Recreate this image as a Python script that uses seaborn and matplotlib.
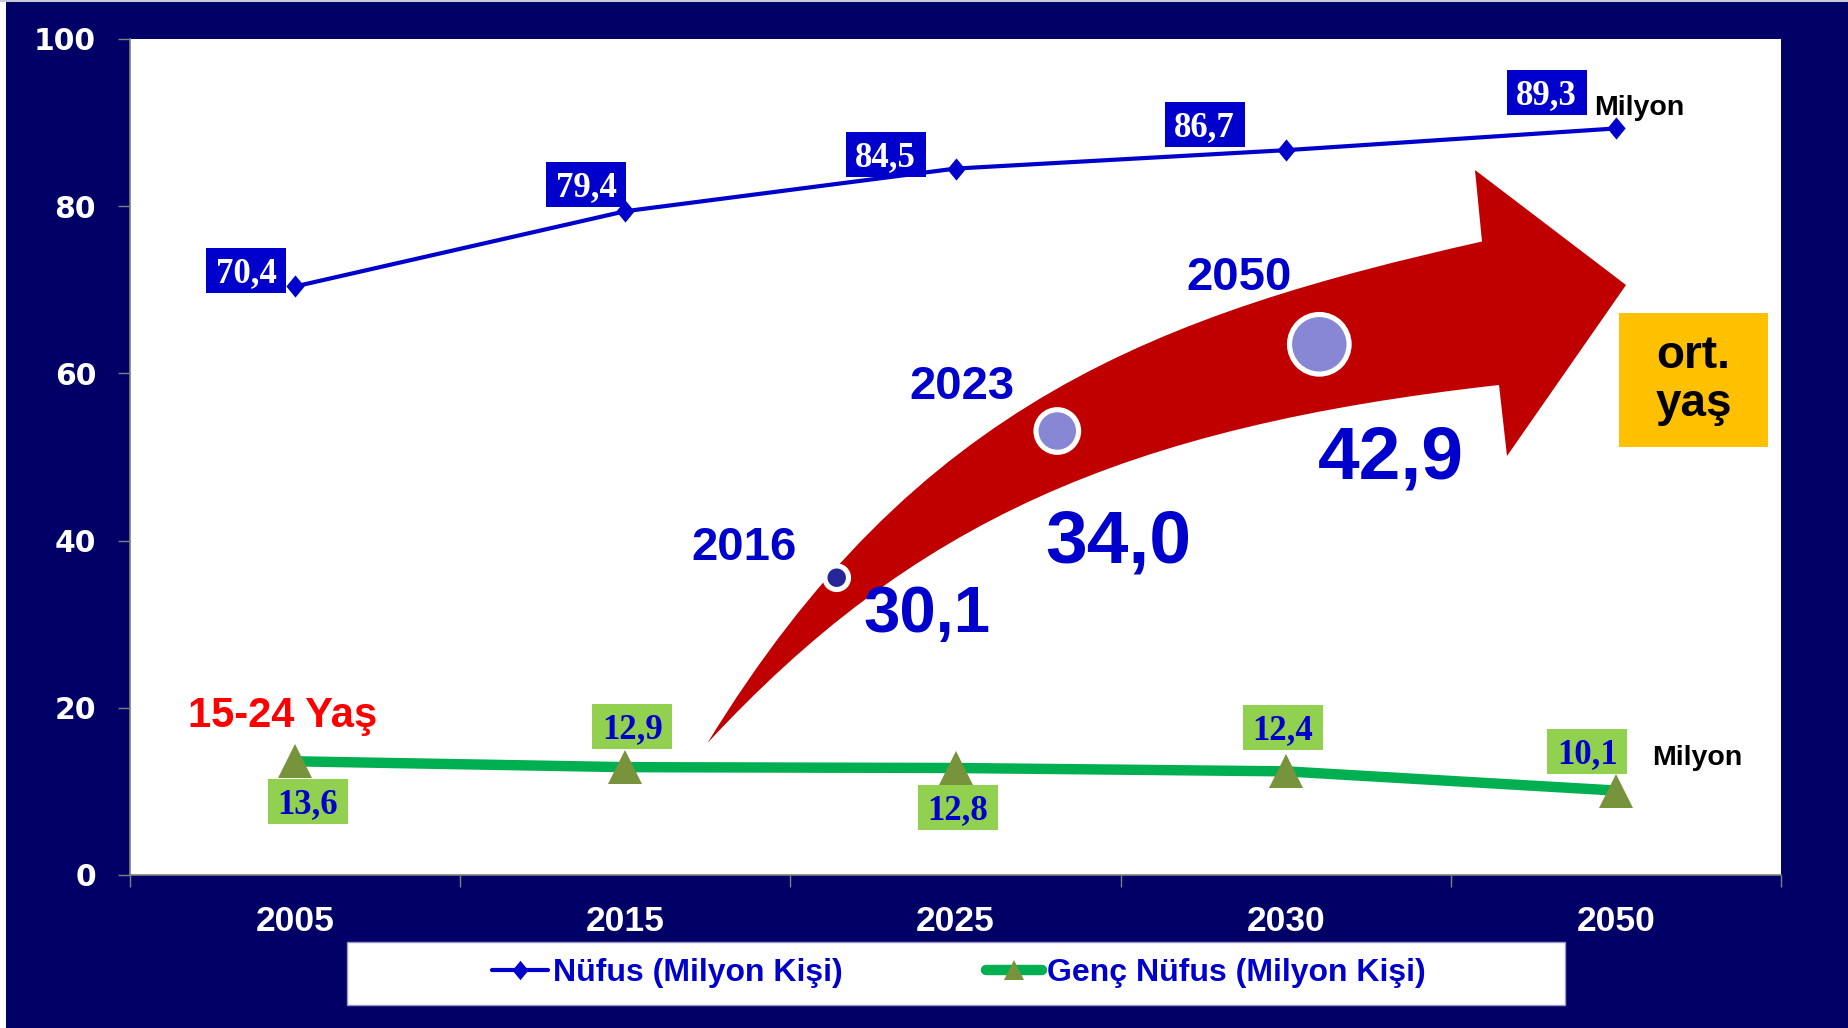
import numpy as np
import pandas as pd
import matplotlib
matplotlib.use("Agg")
import matplotlib.pyplot as plt
import matplotlib.transforms as mtransforms
from matplotlib.patches import Rectangle, PathPatch, Circle
from matplotlib.path import Path
from matplotlib.lines import Line2D
import seaborn as sns

# ---------------- data ----------------
years = ["2005", "2015", "2025", "2030", "2050"]
nufus = [70.4, 79.4, 84.5, 86.7, 89.3]
genc = [13.6, 12.9, 12.8, 12.4, 10.1]
nufus_labels = ["70,4", "79,4", "84,5", "86,7", "89,3"]
genc_labels = ["13,6", "12,9", "12,8", "12,4", "10,1"]
y_ticks = [0, 20, 40, 60, 80, 100]
series_names = ["Nüfus (Milyon Kişi)", "Genç Nüfus (Milyon Kişi)"]
unit_text = "Milyon"
age_group_text = "15-24 Yaş"
median_years = ["2016", "2023", "2050"]
median_ages = ["30,1", "34,0", "42,9"]
median_caption = "ort.\nyaş"

# ---------------- layout (canvas pixels, y downward) ----------------
W, H = 1849, 1028
AX_L, AX_R, AX_T, AX_B = 130, 1781, 39, 875
nufus_off = [(-48.7, -15.5), (-39, -27.2), (-70, -13.6), (-81, -25.2), (-69.3, -35.5)]
genc_off = [(12.8, 40.4), (7, -40.4), (2, 39.5), (-3, -43.8), (-28.8, -39.4)]
BOX_W, BOX_H = 80, 45
year_pos = [(744, 560), (962, 399), (1239, 290)]          # centre x, baseline y
age_pos = [(927, 632), (1118, 562), (1391, 478)]
age_size = [47, 54, 54]
bubble_pos = [(836.7, 577.7), (1057.3, 431), (1319.3, 344.3)]
bubble_r = [11.8, 21.3, 29.8]
bubble_fc = ["#262699", "#8787D6", "#8787D6"]

NAVY = "#000066"
BLUE = "#0000CC"
GREEN = "#00B050"
OLIVE = "#77933C"
LGREEN = "#92D050"
RED = "#C00000"
GREY = "#808080"

sns.set_theme(style="white")
plt.rcParams["font.family"] = ["Liberation Sans", "DejaVu Sans"]

fig = plt.figure(figsize=(W / 100, H / 100), dpi=100, facecolor=NAVY)
ax = fig.add_axes([AX_L / W, 1 - AX_B / H, (AX_R - AX_L) / W, (AX_B - AX_T) / H])
ax.set_facecolor("white")

pxT = mtransforms.Affine2D().scale(1, -1).translate(0, H)

# left white strip / top line of the slide frame
fig.add_artist(Rectangle((0, 0), 6, H, transform=pxT, facecolor="white", edgecolor="none", zorder=0))
fig.add_artist(Rectangle((0, 0), W, 1.5, transform=pxT, facecolor="#c8c8d8", edgecolor="none", zorder=0))

df = pd.DataFrame({
    "Yıl": years + years,
    "Değer": nufus + genc,
    "Seri": [series_names[0]] * len(years) + [series_names[1]] * len(years),
})

diamond = Path([(0, 1), (0.82, 0), (0, -1), (-0.82, 0), (0, 1)],
               [Path.MOVETO, Path.LINETO, Path.LINETO, Path.LINETO, Path.CLOSEPOLY])

sns.lineplot(data=df[df["Seri"] == series_names[0]], x="Yıl", y="Değer", ax=ax,
             color=BLUE, linewidth=3, marker=diamond, markersize=16,
             markerfacecolor=BLUE, markeredgewidth=0, legend=False, sort=False, zorder=3)
sns.lineplot(data=df[df["Seri"] == series_names[1]], x="Yıl", y="Değer", ax=ax,
             color=GREEN, linewidth=7.5, marker="^", markersize=24,
             markerfacecolor=OLIVE, markeredgewidth=0, legend=False, sort=False, zorder=3)

ax.set_xlim(-0.5, len(years) - 0.5)
ax.set_ylim(0, 100)
ax.set_xlabel("")
ax.set_ylabel("")
ax.set_yticks(y_ticks)
ax.set_yticklabels([str(t) for t in y_ticks])
ax.set_xticks(range(len(years)))
ax.set_xticklabels(years)
ax.set_xticks(np.arange(-0.5, len(years), 1.0), minor=True)
ax.tick_params(axis="x", which="major", length=0, pad=21.6, labelcolor="white")
ax.tick_params(axis="x", which="minor", length=8.4, width=1, color=GREY, direction="out", bottom=True)
ax.tick_params(axis="y", which="major", length=8.4, width=1, color=GREY, direction="out",
               pad=16, labelcolor="white", left=True)
for t in ax.get_xticklabels():
    t.set_fontfamily("Liberation Sans")
    t.set_fontweight("bold")
    t.set_fontsize(25.5)
for t in ax.get_yticklabels():
    t.set_fontfamily("DejaVu Sans")
    t.set_fontweight("bold")
    t.set_fontsize(21.5)
for s in ["top", "right"]:
    ax.spines[s].set_visible(False)
for s in ["left", "bottom"]:
    ax.spines[s].set_color(GREY)
    ax.spines[s].set_linewidth(1.2)
ax.grid(False)


def anchor(i, v):
    return mtransforms.ScaledTranslation(i, v, ax.transData)


for i, (v, lab, (dx, dy)) in enumerate(zip(nufus, nufus_labels, nufus_off)):
    tr = anchor(i, v)
    ax.add_artist(Rectangle((dx - BOX_W / 2, -dy - BOX_H / 2), BOX_W, BOX_H, transform=tr,
                            facecolor=BLUE, edgecolor="none", zorder=5, clip_on=False))
    ax.text(dx, -dy - 11.6, lab, transform=tr, ha="center", va="baseline", color="white",
            fontsize=25, fontweight="bold", family="Liberation Serif", zorder=6, clip_on=False)

for i, (v, lab, (dx, dy)) in enumerate(zip(genc, genc_labels, genc_off)):
    tr = anchor(i, v)
    ax.add_artist(Rectangle((dx - BOX_W / 2, -dy - BOX_H / 2), BOX_W, BOX_H, transform=tr,
                            facecolor=LGREEN, edgecolor="none", zorder=5, clip_on=False))
    ax.text(dx, -dy - 11.6, lab, transform=tr, ha="center", va="baseline", color=BLUE,
            fontsize=25, fontweight="bold", family="Liberation Serif", zorder=6, clip_on=False)

last = len(years) - 1
ax.text(-22, 13.5, unit_text, transform=anchor(last, nufus[last]), ha="left", va="baseline",
        color="black", fontsize=20.5, fontweight="bold", zorder=6, clip_on=False)
ax.text(36.7, 25.6, unit_text, transform=anchor(last, genc[last]), ha="left", va="baseline",
        color="black", fontsize=20.5, fontweight="bold", zorder=6, clip_on=False)
ax.text(-106.7, 34.6, age_group_text, transform=anchor(0, genc[0]), ha="left", va="baseline",
        color="#FF0000", fontsize=30, fontweight="bold", zorder=6, clip_on=False)

# ---------------- curved arrow (median age) ----------------
T = (707.5, 743)
P1, P2, A = (915.9, 401.4), (1160.3, 314.1), (1482, 241.5)
HT, TIP, HB = (1475, 170), (1626, 285), (1507, 456)
B = (1499, 385)
Q2, Q1 = (1121.3, 427.2), (911.5, 523.1)
verts = [T, P1, P2, A, HT, TIP, HB, B, Q2, Q1, T, T]
codes = [Path.MOVETO, Path.CURVE4, Path.CURVE4, Path.CURVE4, Path.LINETO, Path.LINETO,
         Path.LINETO, Path.LINETO, Path.CURVE4, Path.CURVE4, Path.CURVE4, Path.CLOSEPOLY]
ax.add_artist(PathPatch(Path(verts, codes), transform=pxT, facecolor=RED, edgecolor="none", zorder=3))

for (x, y), r, fc in zip(bubble_pos, bubble_r, bubble_fc):
    ax.add_artist(Circle((x, y), r, transform=pxT, facecolor=fc, edgecolor="white",
                         linewidth=3.7, zorder=4))

for (x, y), t in zip(year_pos, median_years):
    ax.text(x, y, t, transform=pxT, ha="center", va="baseline", color=BLUE,
            fontsize=34, fontweight="bold", zorder=6)
for (x, y), t, fs in zip(age_pos, median_ages, age_size):
    ax.text(x, y, t, transform=pxT, ha="center", va="baseline", color=BLUE,
            fontsize=fs, fontweight="bold", zorder=6)

ax.add_artist(Rectangle((1619, 312.5), 148.6, 134.5, transform=pxT, facecolor="#FFC000",
                        edgecolor="none", zorder=5))
ax.text(1693.4, 380, median_caption, transform=pxT, ha="center", va="center", color="black",
        fontsize=33, fontweight="bold", linespacing=1.1, zorder=6)

# ---------------- legend ----------------
fig.add_artist(Rectangle((346.7, 941.7), 1218.3, 63.3, transform=pxT, facecolor="white",
                         edgecolor="#9a9ac8", linewidth=1, zorder=1))
handles = [
    Line2D([], [], color=BLUE, linewidth=3, marker=diamond, markersize=14, markeredgewidth=0),
    Line2D([], [], color=GREEN, linewidth=7.5, marker="^", markersize=14,
           markerfacecolor=OLIVE, markeredgewidth=0, solid_capstyle="round"),
]
leg = fig.legend(handles, series_names, loc="center", bbox_to_anchor=(959 / W, 1 - 973 / H),
                 bbox_transform=fig.transFigure, ncol=2, frameon=False,
                 prop={"family": "Liberation Sans", "weight": "bold", "size": 23},
                 labelcolor=BLUE, handlelength=1.75, handletextpad=0.15, columnspacing=4.5)
leg.set_zorder(6)

fig.savefig("out.png", dpi=100, facecolor=NAVY)
